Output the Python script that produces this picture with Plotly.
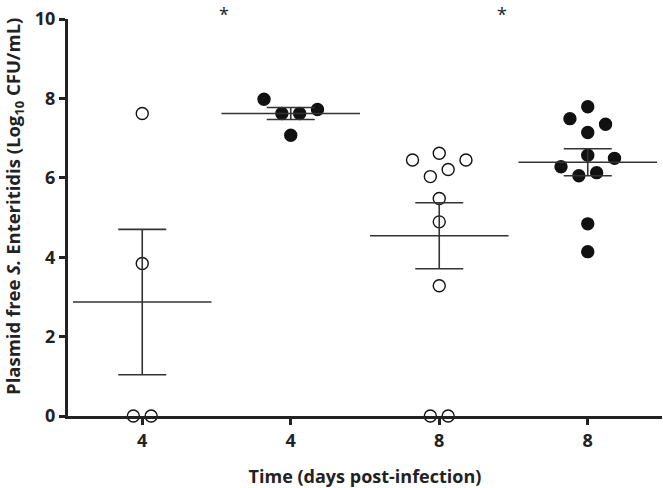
import plotly.graph_objects as go

# ---- data ----
tick_labels = ["4", "4", "8", "8"]
group_pos = [0, 1, 2, 3]

g1_vals = [7.62, 3.84, 0.0, 0.0]            # open circles, day 4
g1_dx = [0.0, 0.0, -0.06, 0.06]
g2_vals = [7.98, 7.62, 7.62, 7.72, 7.07]    # filled circles, day 4
g2_dx = [-0.18, -0.06, 0.06, 0.18, 0.0]
g3_vals = [6.45, 6.62, 6.45, 6.21, 6.03, 5.48, 4.89, 3.28, 0.0, 0.0]   # open, day 8
g3_dx = [-0.18, 0.0, 0.18, 0.06, -0.06, 0.0, 0.0, 0.0, -0.06, 0.06]
g4_vals = [7.79, 7.49, 7.35, 7.14, 6.57, 6.49, 6.28, 6.05, 6.13, 4.84, 4.14]  # filled, day 8
g4_dx = [0.0, -0.12, 0.12, 0.0, 0.0, 0.18, -0.18, -0.06, 0.06, 0.0, 0.0]

means = [2.87, 7.62, 4.54, 6.39]
sem = [1.83, 0.15, 0.83, 0.34]

sig_x = [0.55, 2.42]
sig_text = ["*", "*"]

y_title = "<b>Plasmid free <i>S.</i> Enteritidis (Log<sub>10</sub> CFU/mL)</b>"
x_title = "<b>Time (days post-infection)</b>"

INK = "#222222"
FONT = "Open Sans"

fig = go.Figure()

groups = [
    (0, g1_vals, g1_dx, "circle-open"),
    (1, g2_vals, g2_dx, "circle"),
    (2, g3_vals, g3_dx, "circle-open"),
    (3, g4_vals, g4_dx, "circle"),
]
for pos, vals, dx, sym in groups:
    fig.add_trace(go.Scatter(
        x=[pos + d for d in dx], y=vals, mode="markers",
        marker=dict(symbol=sym, size=12, color="#111111",
                    line=dict(color="#111111", width=1.4)),
        cliponaxis=False, showlegend=False, hoverinfo="y"))

# mean line + SEM error bars
fig.add_trace(go.Scatter(
    x=group_pos, y=means, mode="markers",
    marker=dict(symbol="line-ew-open", size=99, color="#333333",
                line=dict(color="#333333", width=1.6)),
    error_y=dict(type="data", array=sem, visible=True,
                 color="#333333", thickness=1.6, width=24),
    cliponaxis=False, showlegend=False, hoverinfo="y"))

# significance asterisks, anchored to the top edge of the figure
for sx, st in zip(sig_x, sig_text):
    fig.add_annotation(x=sx, y=1.0479, text=st, showarrow=False,
                       font=dict(family=FONT, size=18, color=INK),
                       xref="x", yref="paper", yanchor="top")

# y-axis title as rotated annotation (slightly above plot centre, as in the reference)
fig.add_annotation(x=-0.091, y=0.529, xref="paper", yref="paper",
                   text=y_title, textangle=-90, showarrow=False,
                   xanchor="center", yanchor="middle",
                   font=dict(family=FONT, size=18.5, color=INK))

fig.update_layout(
    width=663, height=488,
    margin=dict(l=68, r=1, t=19, b=72, autoexpand=False),
    paper_bgcolor="white", plot_bgcolor="white",
    font=dict(family=FONT, color=INK),
    xaxis=dict(range=[-0.5, 3.5], tickvals=group_pos, ticktext=tick_labels,
               automargin=False,
               showgrid=False, zeroline=False, showline=True,
               linecolor=INK, linewidth=3, ticks="outside", ticklen=6,
               tickwidth=3, tickcolor=INK,
               tickfont=dict(family=FONT, size=18, color=INK, weight="bold"),
               title=dict(text=x_title,
                          font=dict(family=FONT, size=18, color=INK),
                          standoff=20)),
    yaxis=dict(range=[0, 10], tickvals=[0, 2, 4, 6, 8, 10],
               automargin=False,
               showgrid=False, zeroline=False, showline=True,
               linecolor=INK, linewidth=3, ticks="outside", ticklen=6,
               tickwidth=3, tickcolor=INK,
               tickfont=dict(family=FONT, size=18, color=INK, weight="bold")),
)

fig.write_html("out.html", config={"displayModeBar": False},
               post_script="document.body.style.margin='0';document.body.style.overflow='hidden';")
